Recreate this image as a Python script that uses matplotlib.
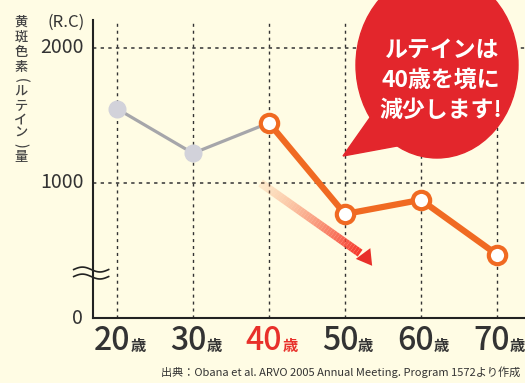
import matplotlib.pyplot as plt
import matplotlib.patches as mpatches
from matplotlib.collections import LineCollection
import numpy as np

plt.rcParams['font.family'] = ['Noto Sans CJK JP', 'DejaVu Sans']

# data
ages = [20, 30, 40, 50, 60, 70]
lutein = [1550, 1220, 1445, 770, 875, 470]
split = 2  # index of 40歳, where the decline starts
age_labels = ['20', '30', '40', '50', '60', '70']
yticks = [0, 1000, 2000]

bg = '#FFFCE4'
txt = '#333333'
orange = '#F06A22'
red = '#E8302A'

fig = plt.figure(figsize=(5.25, 3.83), dpi=100, facecolor=bg)
ax = fig.add_axes([93 / 525, 65 / 383, 432 / 525, 298 / 383])
ax.set_facecolor(bg)
ax.set_xlim(16.84, 73.7)
ax.set_ylim(0, 2207)

for s in ['top', 'right']:
    ax.spines[s].set_visible(False)
for s in ['left', 'bottom']:
    ax.spines[s].set_linewidth(1.5)
    ax.spines[s].set_color('#222222')
ax.set_xticks([])
ax.set_yticks([])

# dotted grid
for a in ages:
    ax.axvline(a, color='#333333', lw=1, ls=(0, (2.2, 2.8)), zorder=1)
for v in yticks[1:]:
    ax.axhline(v, color='#333333', lw=1.1, ls=(0, (2.2, 2.8)), zorder=1)

# y tick labels
for v in yticks:
    ax.annotate(str(v), (16.84, v), xytext=(-7, 0), textcoords='offset points',
                ha='right', va='center', fontsize=14, color=txt, annotation_clip=False)
ax.annotate('(R.C)', (16.84, 2207), xytext=(-6, -2), textcoords='offset points',
            ha='right', va='center', fontsize=12, color=txt, annotation_clip=False)

# x labels
for a, lab in zip(ages, age_labels):
    c = red if lab == '40' else txt
    ax.annotate(lab, (a, 0), xytext=(9.5, -16.5), textcoords='offset points',
                ha='right', va='center', fontsize=23, color=c, fontweight='medium',
                annotation_clip=False)
    ax.annotate('歳', (a, 0), xytext=(9.5, -20), textcoords='offset points',
                ha='left', va='center', fontsize=11, color=c, fontweight='bold',
                annotation_clip=False)

# axis break mark
wx = np.linspace(14.3, 18.9, 60)
for off in [-26, 26]:
    wy = 333 + off + 18 * np.sin((wx - 14.3) / 4.6 * 2 * np.pi)
    ax.plot(wx, wy, color='#222222', lw=1.2, clip_on=False, zorder=5)

# lines
ax.plot(ages[:split + 1], lutein[:split + 1], color='#A6A6AA', lw=2.3, zorder=3)
ax.plot(ages[:split], lutein[:split], 'o', ms=12, color='#D2D2DA', zorder=4)
ax.plot(ages[split:], lutein[split:], color=orange, lw=4.5, zorder=3, clip_on=False)
ax.plot(ages[split:], lutein[split:], 'o', ms=12.5, mfc='white', mec=orange, mew=3,
        zorder=4, clip_on=False)

# gradient arrow
x0, y0, x1, y1 = 38.9, 1000, 52.0, 480
n = 40
tx = np.linspace(x0, x1, n + 1)
ty = np.linspace(y0, y1, n + 1)
segs = [[(tx[i], ty[i]), (tx[i + 1], ty[i + 1])] for i in range(n)]
cols = [(0.97, 0.62 - 0.42 * i / n, 0.40 - 0.24 * i / n, 0.2 + 0.8 * i / n) for i in range(n)]
ax.add_collection(LineCollection(segs, colors=cols, linewidths=6, zorder=2, capstyle='butt'))
ax.annotate('', xy=(53.8, 370), xytext=(51.3, 560),
            arrowprops=dict(arrowstyle='-|>,head_length=1.1,head_width=0.65',
                            color=red, lw=0), zorder=2)

# speech bubble (pixel geometry / 100 -> inches)
bub = '#E3262C'
ell = mpatches.Ellipse((4.37, (383 - 65) / 100), 1.62, 1.86, transform=fig.dpi_scale_trans,
                       color=bub, zorder=10)
tail = mpatches.Polygon([(3.74, (383 - 112) / 100), (3.97, (383 - 146) / 100),
                         (3.43, (383 - 156) / 100)], transform=fig.dpi_scale_trans,
                        color=bub, zorder=10)
fig.patches.extend([ell, tail])
for i, line in enumerate(['ルテインは', '40歳を境に', '減少します!']):
    fig.text(441 / 525, 1 - (50 + 30 * i) / 383, line, ha='center', va='center',
             fontsize=16.5, color='white', fontweight='bold', zorder=11)

# vertical y label
chars = ['黄', '斑', '色', '素', '(', 'ル', 'テ', 'イ', 'ン', ')', '量']
ypos = [22, 37, 52, 67, 80, 92, 106, 119.5, 133, 145, 157]
for ch, yp in zip(chars, ypos):
    rot = -90 if ch in '()' else 0
    fig.text(21 / 525, 1 - yp / 383, ch, ha='center', va='center', rotation=rot,
             fontsize=9.5, color='#444444', fontweight='medium')

fig.text(520 / 525, 1 - 372 / 383, '出典：Obana et al. ARVO 2005 Annual Meeting. Program 1572より作成',
         ha='right', va='center', fontsize=8, color=txt)

fig.savefig('out.png', dpi=100, facecolor=bg)
